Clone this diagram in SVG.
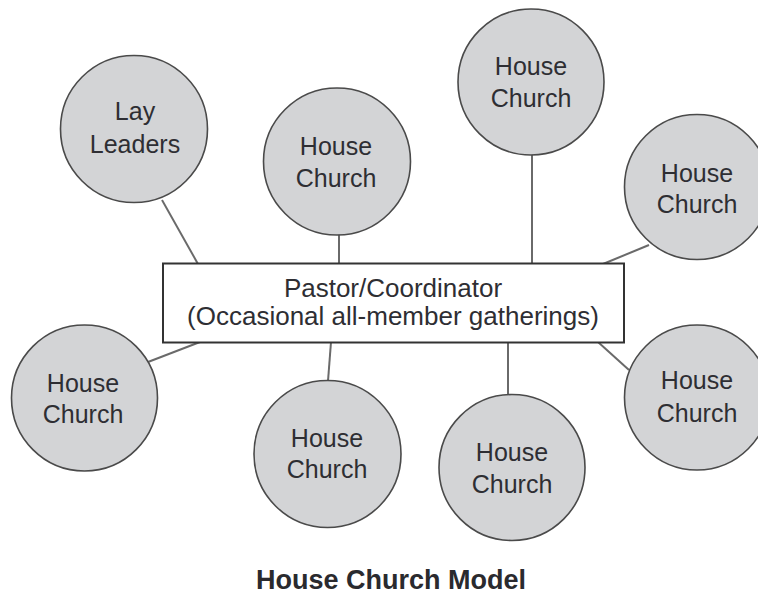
<svg xmlns="http://www.w3.org/2000/svg" width="758" height="596" viewBox="0 0 758 596">
<style>
.c{fill:#d3d4d6;stroke:#4a4a4a;stroke-width:1.6}
.t{font-family:"Liberation Sans",Arial,sans-serif;font-size:25px;fill:#2e2e33;text-anchor:middle}
.b{font-family:"Liberation Sans",Arial,sans-serif;font-size:26px;fill:#2e2e33;text-anchor:middle}
.ttl{font-family:"Liberation Sans",Arial,sans-serif;font-size:27px;font-weight:bold;fill:#2a2a2e;text-anchor:middle}
#connectors line{stroke:#6a6a6a;stroke-width:2}
</style>
<rect width="758" height="596" fill="#ffffff"/>
<g id="connectors">
<line x1="162" y1="200" x2="198" y2="264"/>
<line x1="339" y1="234" x2="339" y2="264"/>
<line x1="532" y1="154" x2="532" y2="264"/>
<line x1="603" y1="264" x2="649" y2="245"/>
<line x1="148" y1="362" x2="200" y2="342"/>
<line x1="331" y1="342" x2="328" y2="381"/>
<line x1="508" y1="342" x2="508" y2="395"/>
<line x1="598" y1="342" x2="629" y2="370"/>
</g>
<g id="lay-leaders">
<circle class="c" cx="134" cy="129" r="73.5"/>
<text class="t" x="135" y="120">Lay</text>
<text class="t" x="135" y="153">Leaders</text>
</g>
<g id="house-church-1">
<circle class="c" cx="337" cy="161.5" r="73.5"/>
<text class="t" x="336" y="155">House</text>
<text class="t" x="336" y="187">Church</text>
</g>
<g id="house-church-2">
<circle class="c" cx="531" cy="82" r="73"/>
<text class="t" x="531" y="75">House</text>
<text class="t" x="531" y="107">Church</text>
</g>
<g id="house-church-3">
<circle class="c" cx="697" cy="187" r="72.5"/>
<text class="t" x="697" y="182">House</text>
<text class="t" x="697" y="213">Church</text>
</g>
<g id="house-church-4">
<circle class="c" cx="84.5" cy="398" r="73"/>
<text class="t" x="83" y="392">House</text>
<text class="t" x="83" y="423">Church</text>
</g>
<g id="house-church-5">
<circle class="c" cx="327.5" cy="454" r="73.5"/>
<text class="t" x="327" y="447">House</text>
<text class="t" x="327" y="478">Church</text>
</g>
<g id="house-church-6">
<circle class="c" cx="512" cy="467.5" r="73"/>
<text class="t" x="512" y="461">House</text>
<text class="t" x="512" y="493">Church</text>
</g>
<g id="house-church-7">
<circle class="c" cx="697" cy="397.5" r="72.5"/>
<text class="t" x="697" y="389">House</text>
<text class="t" x="697" y="422">Church</text>
</g>
<g id="pastor">
<rect x="163" y="263.5" width="461" height="79" fill="#ffffff" stroke="#333333" stroke-width="2"/>
<text class="b" x="393" y="297">Pastor/Coordinator</text>
<text class="b" x="393" y="325">(Occasional all-member gatherings)</text>
</g>
<text class="ttl" x="391" y="589">House Church Model</text>
</svg>
